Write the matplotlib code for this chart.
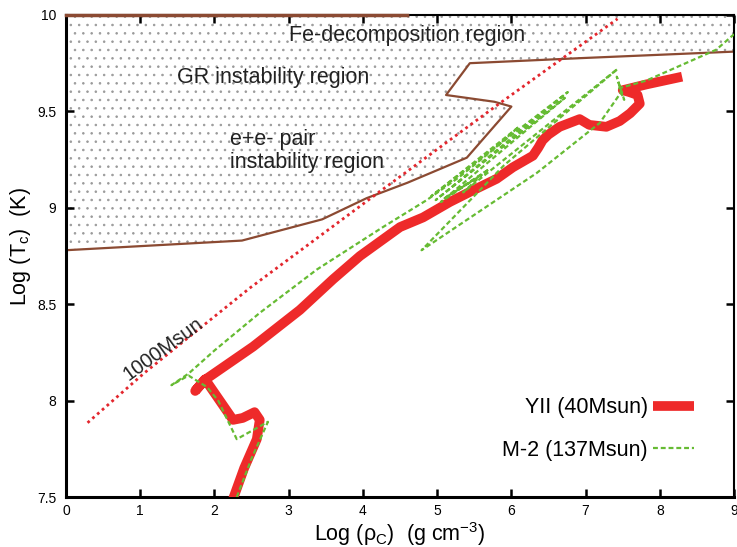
import numpy as np
import matplotlib
matplotlib.use('Agg')
import matplotlib.pyplot as plt
from matplotlib.patches import Polygon

plt.rcParams['font.family'] = ['Liberation Sans', 'DejaVu Sans']
plt.rcParams['hatch.color'] = '#9a9a9a'
plt.rcParams['hatch.linewidth'] = 0.6

# instability region boundary (log rho_c, log T_c)
bound_x = [0.0, 2.37, 3.45, 4.05, 4.6, 5.4, 6.0, 5.77, 5.12, 5.44, 6.92, 9.0]
bound_y = [8.78, 8.83, 8.94, 9.05, 9.13, 9.26, 9.525, 9.55, 9.585, 9.75, 9.776, 9.81]

# 1000 Msun track (dotted)
m1000_x = [0.29, 1.06, 2.48, 4.23, 5.8, 7.43]
m1000_y = [7.885, 8.145, 8.585, 9.085, 9.53, 9.98]

# YII (40Msun)
yii_x = [2.25, 2.40, 2.57, 2.61, 2.54, 2.38, 2.25, 1.91, 1.87, 1.74, 1.88, 2.52, 3.15, 3.60,
         3.96, 4.50, 4.81, 5.17, 5.48, 5.80, 6.02, 6.29, 6.36, 6.42, 6.50, 6.65, 6.92, 7.05,
         7.28, 7.46, 7.60, 7.73, 7.70, 7.59, 7.50, 7.82, 8.30]
yii_y = [7.49, 7.65, 7.80, 7.90, 7.94, 7.91, 7.90, 8.09, 8.11, 8.05, 8.11, 8.28, 8.47, 8.63,
         8.75, 8.90, 8.95, 9.03, 9.09, 9.15, 9.21, 9.27, 9.31, 9.35, 9.38, 9.42, 9.46, 9.43,
         9.42, 9.45, 9.49, 9.54, 9.585, 9.60, 9.61, 9.64, 9.68]

# M-2 (137Msun)
m2_x = [2.30, 2.50, 2.72, 2.30, 2.05, 1.90, 1.65, 1.42, 1.65, 2.00, 2.61, 3.38, 4.27, 4.86,
        5.30, 5.75, 6.10, 4.92, 6.76, 4.98, 6.72, 5.05, 5.70, 5.10, 5.60, 5.35, 7.43, 5.90,
        4.79, 6.34, 7.19, 7.48, 7.42, 7.52, 7.45, 7.82, 8.76, 9.00]
m2_y = [7.50, 7.70, 7.89, 7.80, 8.00, 8.07, 8.13, 8.08, 8.14, 8.26, 8.455, 8.68, 8.90, 9.04,
        9.16, 9.30, 9.42, 9.06, 9.60, 9.04, 9.57, 9.03, 9.20, 9.05, 9.17, 9.08, 9.72, 9.22,
        8.78, 9.18, 9.44, 9.60, 9.68, 9.56, 9.62, 9.66, 9.82, 9.90]

fig = plt.figure(figsize=(7.37, 5.47), dpi=100)
ax = fig.add_axes([0.0896, 0.0914, 0.9064, 0.8812])

poly = list(zip(bound_x, bound_y)) + [(9.0, 10.0), (0.0, 10.0)]
ax.add_patch(Polygon(poly, closed=True, facecolor='white', edgecolor='#9a9a9a', lw=0,
                     hatch='..', zorder=1))
ax.plot(bound_x, bound_y, color='#8b4a32', lw=1.6, zorder=2)
ax.plot([0, 4.6], [10, 10], color='#8b4a32', lw=2.5, zorder=5, clip_on=False)

ax.plot(m1000_x, m1000_y, color='#e3262d', lw=2.0, ls=(0, (1, 1.3)), zorder=3)
ax.plot(yii_x, yii_y, color='#ee2a2a', lw=7, solid_capstyle='butt', solid_joinstyle='round',
        zorder=3, label='YII (40Msun)')
ax.plot(m2_x, m2_y, color='#66bb33', lw=1.6, ls=(0, (2.2, 1.3)), zorder=4, label='M-2 (137Msun)')

txt = dict(fontsize=15.5, va='center', color='#222222')
ax.text(3.01, 9.896, 'Fe-decomposition region', **txt)
ax.text(1.49, 9.674, 'GR instability region', **txt)
ax.text(2.21, 9.352, 'e+e- pair', **txt)
ax.text(2.21, 9.233, 'instability region', **txt)
ax.text(1.31, 8.27, '1000Msun', fontsize=14.5, rotation=36, ha='center', va='center',
        color='#222222')

ax.legend(loc='lower right', bbox_to_anchor=(0.94, 0.075), frameon=False, markerfirst=False,
          fontsize=15.5, handlelength=1.9, labelspacing=1.0, handletextpad=0.25,
          borderpad=0, borderaxespad=0)

ax.set_xlim(0, 9)
ax.set_ylim(7.5, 10)
ax.set_xticks(range(0, 10))
ax.set_yticks([7.5, 8, 8.5, 9, 9.5, 10])
ax.set_yticklabels(['7.5', '8', '8.5', '9', '9.5', '10'])
ax.tick_params(direction='in', top=True, right=True, length=6, width=1.8, labelsize=10)
ax.tick_params(axis='x', pad=5)
ax.tick_params(axis='y', pad=7)
for s in ['left', 'bottom']:
    ax.spines[s].set_linewidth(2.2)
for s in ['top', 'right']:
    ax.spines[s].set_linewidth(1.5)

ax.set_xlabel(r'Log ($\mathregular{\rho_C}$)  (g cm$\mathregular{^{-3}}$)', fontsize=15.5)
ax.xaxis.set_label_coords(0.5, -0.047)
ax.set_ylabel(r'Log (T$\mathregular{_c}$)  (K)', fontsize=15.5)
ax.yaxis.set_label_coords(-0.05, 0.52)

fig.savefig('out.png', dpi=100)
